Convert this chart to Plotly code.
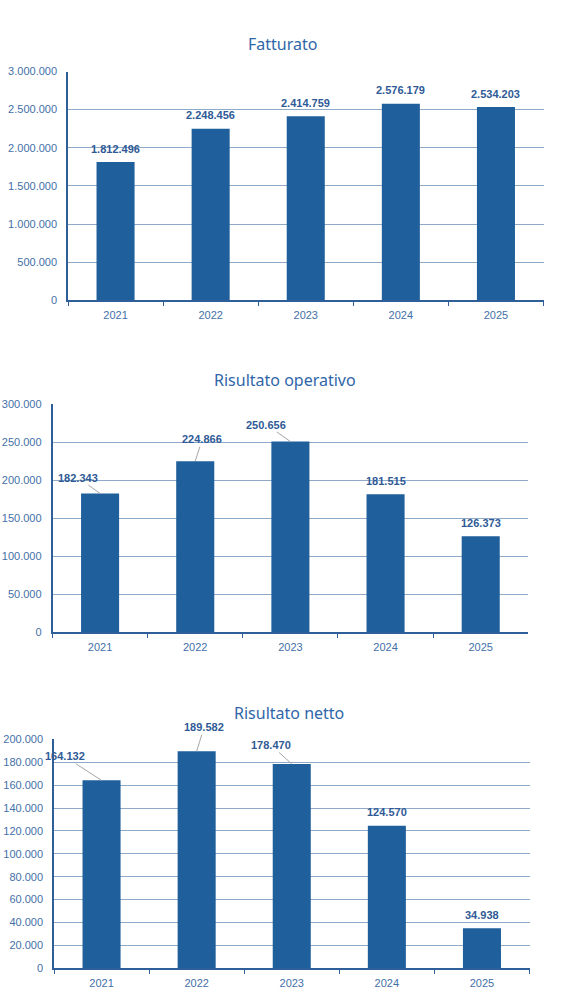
import plotly.graph_objects as go

W, H = 579, 1006

years = ["2021", "2022", "2023", "2024", "2025"]

fatturato = [1812496, 2248456, 2414759, 2576179, 2534203]
ris_operativo = [182343, 224866, 250656, 181515, 126373]
ris_netto = [164132, 189582, 178470, 124570, 34938]

titles = ["Fatturato", "Risultato operativo", "Risultato netto"]
y_max = [3000000, 300000, 200000]
y_dtick = [500000, 50000, 20000]

# pixel geometry of each panel in the page: (left, right, top, bottom)
panels = [(68, 543.5, 71.5, 300.3), (52.5, 528.3, 404, 632.3), (54, 529.5, 739.3, 968.3)]
title_pos = [(282, 44), (285, 380), (289, 713)]

# callout label offsets in pixels (None = plain label above bar)
callouts = [
    [None, None, None, None, None],
    [(-22, -16), (7, -22), (-24, -17), None, None],
    [(-37, -24), (7.5, -24), (-21, -19), None, None],
]

BAR = "#1f5f9b"
GRID = "#8eaac8"
AXIS = "#2f5f99"
TICK = "#4470a8"
LABEL = "#2f5a96"
TITLE = "#2f66a8"


def fmt(v):
    return f"{v:,}".replace(",", ".")


def px(x):
    return x / W


def py(y):
    return 1 - y / H


fig = go.Figure()
series = [fatturato, ris_operativo, ris_netto]
annotations = []
layout = {}
for i, (vals, (l, r, t, b)) in enumerate(zip(series, panels)):
    n = "" if i == 0 else str(i + 1)
    xa, ya = "x" + n, "y" + n
    fig.add_trace(go.Bar(x=years, y=vals, xaxis=xa, yaxis=ya, width=0.4,
                         marker=dict(color=BAR, line=dict(width=0)),
                         showlegend=False, hoverinfo="skip"))
    layout["xaxis" + n] = dict(
        domain=[px(l), px(r)], anchor=ya, type="category",
        range=[-0.5, len(years) - 0.5], autorange=False, automargin=False,
        showline=True, linecolor=AXIS, linewidth=1.5,
        ticks="outside", tickson="boundaries", ticklen=4, tickcolor=AXIS,
        tickangle=0, ticklabelstandoff=4,
        tickfont=dict(family="Liberation Sans, Arial", size=11, color=TICK),
        showgrid=False, fixedrange=True)
    layout["yaxis" + n] = dict(
        domain=[py(b), py(t)], anchor=xa,
        range=[0, y_max[i]], autorange=False, automargin=False,
        dtick=y_dtick[i], tick0=0, tickformat=",d",
        showline=True, linecolor=AXIS, linewidth=1.5,
        showgrid=True, gridcolor=GRID, gridwidth=1,
        zeroline=False, ticks="", ticklabelstandoff=7,
        tickfont=dict(family="Liberation Sans, Arial", size=11, color=TICK),
        fixedrange=True)
    tx, ty = title_pos[i]
    annotations.append(dict(text=titles[i], xref="paper", yref="paper",
                            x=px(tx), y=py(ty), xanchor="center", yanchor="middle",
                            showarrow=False,
                            font=dict(family="Noto Sans, Open Sans", size=16, color=TITLE)))
    for j, v in enumerate(vals):
        c = callouts[i][j]
        base = dict(text="<b>" + fmt(v) + "</b>", xref=xa, yref=ya, x=j, y=v,
                    font=dict(family="Liberation Sans, Arial", size=11, color=LABEL))
        if c is None:
            base.update(showarrow=False, yanchor="middle", xanchor="center", yshift=13.5)
        else:
            base.update(showarrow=True, arrowhead=0, arrowwidth=1, arrowcolor="#a6a6a6",
                        ax=c[0], ay=c[1], standoff=0, borderpad=1)
        annotations.append(base)

fig.update_layout(**layout)
fig.update_layout(width=W, height=H, margin=dict(l=0, r=0, t=0, b=0, autoexpand=False),
                  paper_bgcolor="white", plot_bgcolor="white",
                  separators=",.", annotations=annotations, bargap=0.6)

fig.write_html("out.html", config={"displayModeBar": False},
               post_script="document.body.style.margin='0';document.body.style.overflow='hidden';")
